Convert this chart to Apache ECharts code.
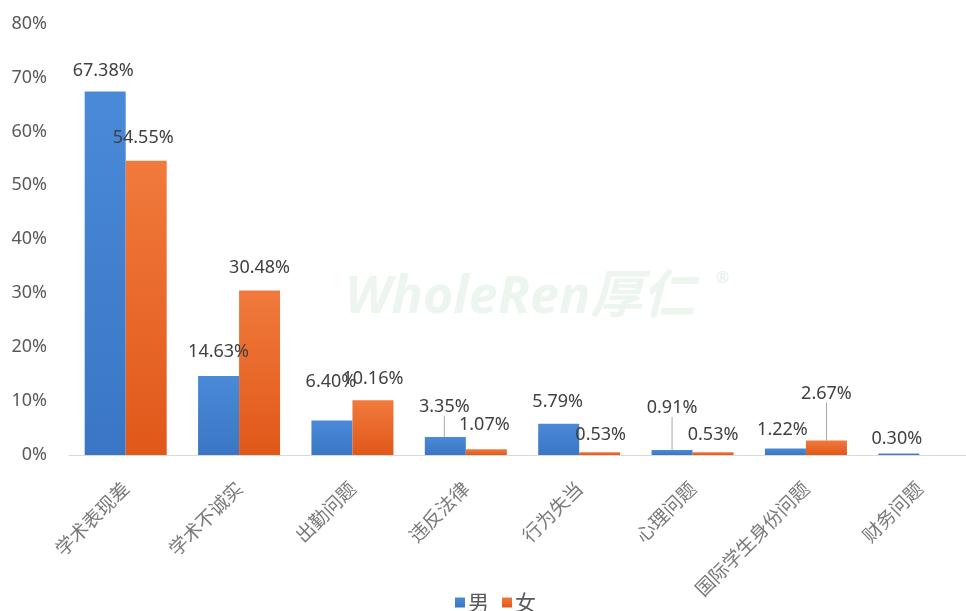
<!DOCTYPE html>
<html>
<head>
<meta charset="utf-8">
<style>
  html, body { margin: 0; padding: 0; background: #fff; }
  #chart { width: 966px; height: 611px; }
</style>
<script src="https://cdn.jsdelivr.net/npm/echarts@6/dist/echarts.min.js"></script>
</head>
<body>
<div id="chart"></div>
<script>
const categories = ['学术表现差', '学术不诚实', '出勤问题', '违反法律', '行为失当', '心理问题', '国际学生身份问题', '财务问题']
const maleValues = [67.38, 14.63, 6.40, 3.35, 5.79, 0.91, 1.22, 0.30]
const femaleValues = [54.55, 30.48, 10.16, 1.07, 0.53, 0.53, 2.67, null]
const seriesNames = ['男', '女']

// excel moved some labels by hand, shift them the same way
const labelShift = [
  [[-2, -7], [0, -10], [-1, -25], [-1, -16], [-1, -8], [0, -28], [-3, -5], [-2, -1]],
  [[-3, -9], [0, -9], [0, -7], [-2, -10], [1, -3], [0, -3], [0, -33], [0, 0]]
]
const withLeader = [[3, 5], [6]]

const chart = echarts.init(document.getElementById('chart'))

function grad(top, bottom) {
  return new echarts.graphic.LinearGradient(0, 0, 0, 1, [
    { offset: 0, color: top },
    { offset: 1, color: bottom }
  ])
}

function toData(values, si) {
  return values.map((v, i) => {
    if (withLeader[si].indexOf(i) >= 0) {
      return { value: v, labelLine: { show: true } }
    }
    return v
  })
}

const labelStyle = {
  show: true,
  position: 'top',
  distance: 5,
  fontSize: 18,
  fontFamily: 'Noto Sans',
  color: '#404040',
  formatter: p => p.value == null ? '' : p.value.toFixed(2) + '%'
}

const option = {
  animation: false,
  textStyle: { fontFamily: 'Noto Sans' },
  graphic: [
    {
      type: 'text',
      left: 345,
      top: 272,
      style: {
        text: 'WholeRen厚仁',
        font: 'italic bold 52px "Noto Sans", "Noto Sans CJK SC"',
        fill: 'rgba(140, 195, 155, 0.16)'
      }
    },
    {
      type: 'text',
      left: 716,
      top: 270,
      style: { text: '®', font: '16px "Noto Sans"', fill: 'rgba(140, 195, 155, 0.25)' }
    }
  ],
  legend: {
    data: seriesNames,
    left: 450,
    top: 587,
    itemWidth: 10,
    itemHeight: 10,
    itemGap: 13,
    icon: 'rect',
    textStyle: { fontSize: 21, color: '#595959', fontFamily: 'Noto Sans CJK SC', padding: [0, 0, 0, -2] }
  },
  // the source picture is cropped on the right, so the plot runs past the edge
  grid: { left: 69, right: -10, top: 23.5, bottom: 156, outerBoundsMode: 'none', containLabel: false },
  xAxis: {
    type: 'category',
    data: categories,
    axisLine: { lineStyle: { color: '#d9d9d9', width: 1 } },
    axisTick: { show: false },
    axisLabel: {
      interval: 0,
      rotate: 45,
      margin: 30,
      fontSize: 19,
      color: '#7a7a7a',
      fontFamily: 'Noto Sans CJK SC'
    }
  },
  yAxis: {
    type: 'value',
    min: 0,
    max: 80,
    interval: 10,
    axisLine: { show: false },
    axisTick: { show: false },
    splitLine: { show: false },
    axisLabel: {
      formatter: '{value}%',
      margin: 22,
      fontSize: 18,
      color: '#595959',
      fontFamily: 'Noto Sans'
    }
  },
  series: [
    {
      name: seriesNames[0],
      type: 'bar',
      data: toData(maleValues, 0),
      barWidth: 41,
      barGap: '0%',
      itemStyle: { color: grad('#4a8ad8', '#3a76c4') },
      label: labelStyle,
      labelLine: { show: false, lineStyle: { color: '#a6a6a6', width: 1 } },
      labelLayout: p => ({ dx: labelShift[0][p.dataIndex][0], dy: labelShift[0][p.dataIndex][1] })
    },
    {
      name: seriesNames[1],
      type: 'bar',
      data: toData(femaleValues, 1),
      barWidth: 41,
      barGap: '0%',
      itemStyle: { color: grad('#f07a3c', '#e0581a') },
      label: labelStyle,
      labelLine: { show: false, lineStyle: { color: '#a6a6a6', width: 1 } },
      labelLayout: p => ({ dx: labelShift[1][p.dataIndex][0], dy: labelShift[1][p.dataIndex][1] })
    }
  ]
}
chart.setOption(option)
</script>
</body>
</html>
